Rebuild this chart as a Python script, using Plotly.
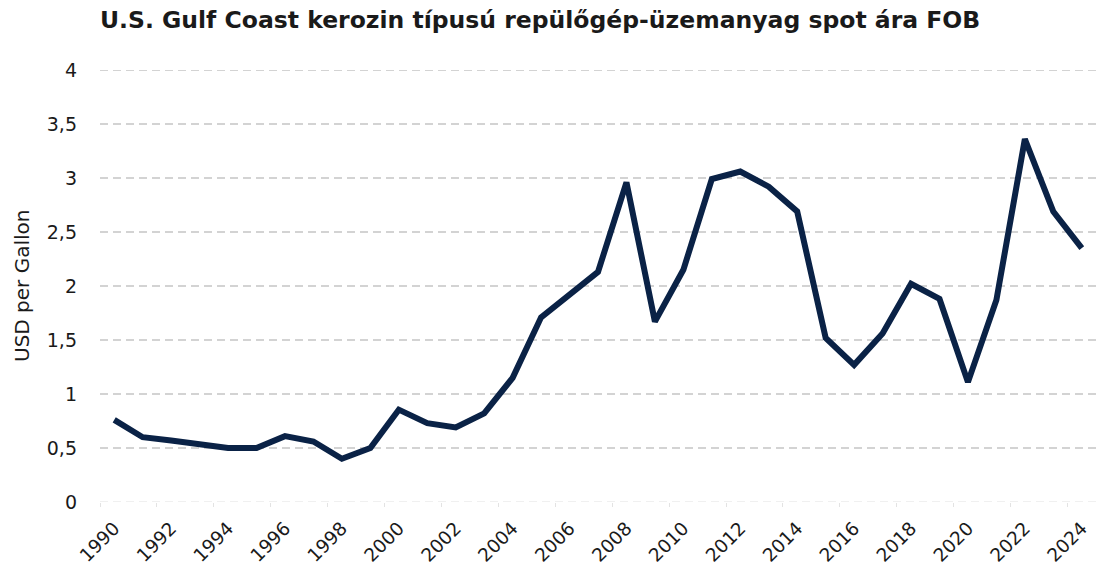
import plotly.graph_objects as go

years = [str(y) for y in range(1990, 2025)]
prices = [0.76, 0.60, 0.57, 0.53, 0.50, 0.50, 0.61, 0.56, 0.40, 0.50,
          0.855, 0.73, 0.69, 0.82, 1.15, 1.71, 1.92, 2.13, 2.96, 1.67,
          2.15, 2.99, 3.06, 2.92, 2.69, 1.52, 1.27, 1.56, 2.02, 1.88,
          1.11, 1.87, 3.36, 2.69, 2.35]
title_text = "U.S. Gulf Coast kerozin típusú repülőgép-üzemanyag spot ára FOB"
y_title = "USD per Gallon"
y_grid = [0.5, 1, 1.5, 2, 2.5, 3, 3.5, 4]
y_labels_at = [0, 0.5, 1, 1.5, 2, 2.5, 3, 3.5, 4]

FONT = "DejaVu Sans"
TXT = "#1a1a1a"

fig = go.Figure(go.Scatter(
    x=years, y=prices, mode="lines",
    line=dict(color="#0a2246", width=6),
    hoverinfo="x+y",
))

fig.update_layout(
    width=1096, height=569,
    margin=dict(l=100, r=0, t=70, b=67, autoexpand=False),
    paper_bgcolor="white", plot_bgcolor="white",
    separators=", ",
    font=dict(family=FONT, color=TXT),
    title=dict(text="<b>" + title_text + "</b>", x=100 / 1096, xref="container",
               xanchor="left", y=1 - 12 / 569, yref="container", yanchor="top",
               font=dict(family=FONT, size=23.5, color=TXT)),
    showlegend=False,
    annotations=[dict(text=y_title, textangle=-90, xref="paper", yref="paper",
                      x=-(100 - 22) / 996, y=0.5, xanchor="center", yanchor="middle",
                      showarrow=False, font=dict(family=FONT, size=20, color=TXT))],
    shapes=[dict(type="line", xref="paper", x0=0, x1=1, yref="y", y0=0, y1=0,
                 line=dict(color="#ebebeb", width=1.5, dash="8px,5px"), layer="below")],
)

fig.update_xaxes(
    type="category", range=[-0.5, len(years) - 0.5], automargin=False,
    dtick=2, tickson="boundaries", ticks="outside", ticklen=4,
    tickcolor="#e3e3e3", tickwidth=1, tickangle=-45, ticklabelstandoff=11,
    showgrid=False, showline=False,
    tickfont=dict(family=FONT, size=18.5, color=TXT),
)

fig.update_yaxes(
    range=[0, 4], tickvals=y_labels_at, automargin=False,
    showgrid=False, zeroline=False, showline=False, ticks="",
    ticklabelstandoff=22,
    tickfont=dict(family=FONT, size=19, color=TXT),
)

# dashed horizontal gridlines (the zero line is lighter, drawn above)
for v in y_grid:
    fig.add_hline(y=v, line=dict(color="#d3d3d3", width=2, dash="8px,5px"), layer="below")

fig.write_html("out.html", config={"displayModeBar": False},
               post_script="document.body.style.margin='0';document.body.style.overflow='hidden';")
